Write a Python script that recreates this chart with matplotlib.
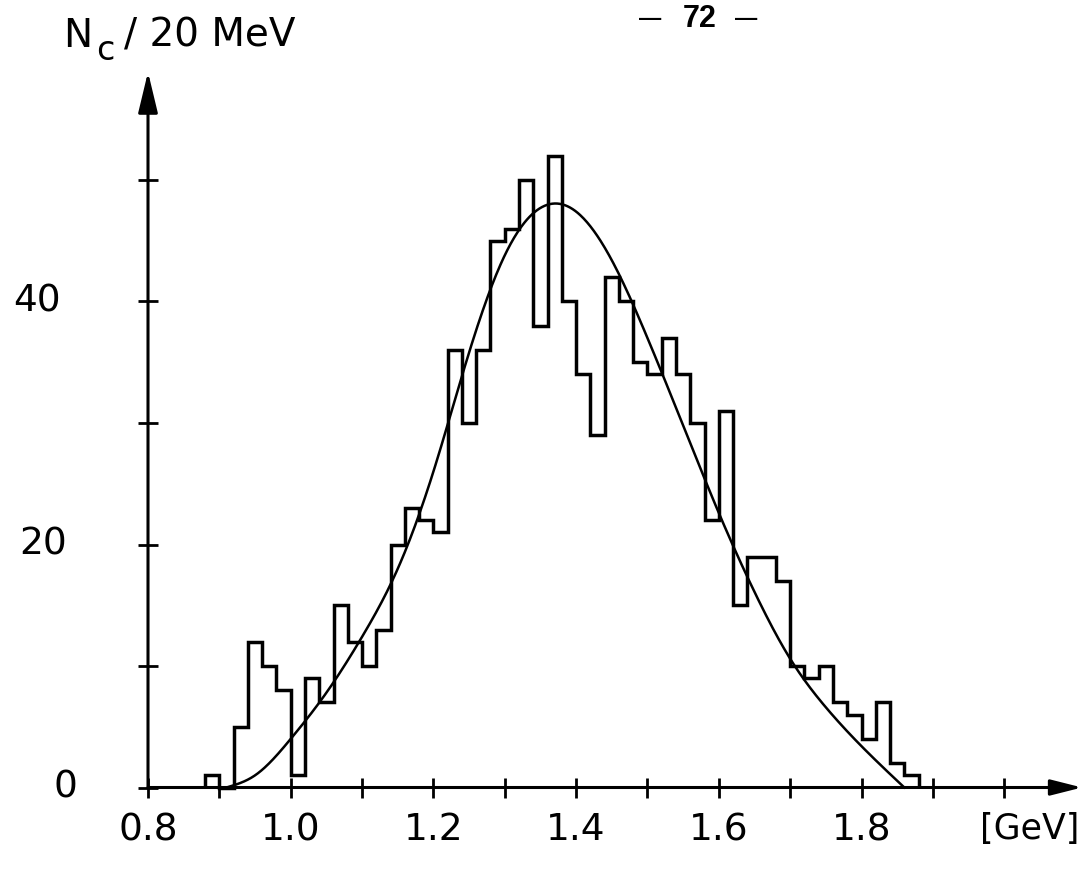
import numpy as np
import matplotlib
matplotlib.use("Agg")
import matplotlib.pyplot as plt
from matplotlib.transforms import blended_transform_factory

plt.rcParams["font.family"] = ["DejaVu Sans"]

# Invariant-mass histogram: 20 MeV bins starting at 0.88 GeV
first_edge = 0.88
bin_width = 0.02
counts = [1, 0, 5, 12, 10, 8, 1, 9, 7, 15,
          12, 10, 13, 20, 23, 22, 21, 36, 30, 36,
          45, 46, 50, 38, 52, 40, 34, 29, 42, 40,
          35, 34, 37, 34, 30, 22, 31, 15, 19, 19,
          17, 10, 9, 10, 7, 6, 4, 7, 2, 1]

# Fitted curve sampled at knots (GeV, events per bin)
curve_gev = [0.91, 0.95, 1.00, 1.05, 1.10, 1.15, 1.20, 1.25, 1.30, 1.35,
             1.40, 1.45, 1.50, 1.55, 1.60, 1.65, 1.70, 1.75, 1.80, 1.86]
curve_n = [0.0, 1.0, 4.0, 7.8, 12.4, 18.0, 26.0, 35.8, 43.8, 47.7,
           47.4, 43.4, 37.0, 29.8, 22.6, 16.1, 10.6, 6.6, 3.4, 0.0]

x_major = [0.8, 1.0, 1.2, 1.4, 1.6, 1.8]
x_major_labels = ["0.8", "1.0", "1.2", "1.4", "1.6", "1.8"]
x_minor = [0.9, 1.1, 1.3, 1.5, 1.7, 1.9, 2.0]
y_major = [0, 20, 40]
y_major_labels = ["0", "20", "40"]
y_minor = [10, 30, 50]


def natural_spline(xk, yk, xs):
    xk = np.asarray(xk, float)
    yk = np.asarray(yk, float)
    n = len(xk)
    h = np.diff(xk)
    A = np.zeros((n, n))
    r = np.zeros(n)
    A[0, 0] = A[-1, -1] = 1.0
    for i in range(1, n - 1):
        A[i, i - 1] = h[i - 1]
        A[i, i] = 2 * (h[i - 1] + h[i])
        A[i, i + 1] = h[i]
        r[i] = 3 * ((yk[i + 1] - yk[i]) / h[i] - (yk[i] - yk[i - 1]) / h[i - 1])
    c = np.linalg.solve(A, r)
    b = (yk[1:] - yk[:-1]) / h - h * (2 * c[:-1] + c[1:]) / 3
    d = (c[1:] - c[:-1]) / (3 * h)
    idx = np.clip(np.searchsorted(xk, xs) - 1, 0, n - 2)
    dx = xs - xk[idx]
    return yk[idx] + b[idx] * dx + c[idx] * dx ** 2 + d[idx] * dx ** 3


W, H = 1086, 873
fig = plt.figure(figsize=(W / 100, H / 100), dpi=100)
fig.patch.set_facecolor("white")

# axes frame in pixels: origin (0.8 GeV, 0) at (148, 787.5)
px_gev, px_n = 713.5, 12.15
left_px, right_px, bottom_px, top_px = 148, 1084, 787.5, 62
ax = fig.add_axes([left_px / W, (H - bottom_px) / H,
                   (right_px - left_px) / W, (bottom_px - top_px) / H])
ax.set_xlim(0.8, 0.8 + (right_px - left_px) / px_gev)
ax.set_ylim(0, (bottom_px - top_px) / px_n)
ax.patch.set_alpha(0)
for s in ax.spines.values():
    s.set_visible(False)

# histogram outline
edges = np.round(first_edge + bin_width * np.arange(len(counts) + 1), 2)
ax.stairs(counts, edges, baseline=0, fill=False, color="black",
          linewidth=2.5, clip_on=False)

# fitted curve
xs = np.linspace(curve_gev[0], curve_gev[-1], 800)
ys = np.clip(natural_spline(curve_gev, curve_n, xs), 0, None)
ax.plot(xs, ys, color="black", linewidth=1.8, clip_on=False)

# axes with arrowheads
x_tip = 0.8 + (1082 - left_px) / px_gev
y_tip = (bottom_px - 72) / px_n
ax.annotate("", xy=(x_tip, 0), xytext=(0.8, 0), annotation_clip=False,
            arrowprops=dict(arrowstyle="-|>,head_length=0.95,head_width=0.24",
                            mutation_scale=20, lw=2.2, color="black",
                            shrinkA=0, shrinkB=0))
ax.annotate("", xy=(0.8, y_tip), xytext=(0.8, 0), annotation_clip=False,
            arrowprops=dict(arrowstyle="-|>,head_length=1.25,head_width=0.3",
                            mutation_scale=20, lw=2.2, color="black",
                            shrinkA=0, shrinkB=0))

ax.set_xticks(x_major)
ax.set_xticklabels(x_major_labels)
ax.set_xticks(x_minor, minor=True)
ax.set_yticks(y_major)
ax.set_yticklabels([])
ax.set_yticks(y_minor, minor=True)
ax.tick_params(which="both", direction="inout", length=14, width=2.0,
               color="black")
ax.tick_params(axis="x", which="major", pad=11, labelsize=27)

# y labels, set well away from the axis
ylab_tr = blended_transform_factory(fig.transFigure, ax.transData)
ylab_centres_px = [65, 43, 37]
for val, lab, cx in zip(y_major, y_major_labels, ylab_centres_px):
    ax.text(cx / W, val, lab, transform=ylab_tr, ha="center", va="center",
            fontsize=27, clip_on=False)

ax.annotate("[GeV]", xy=(0.8 + (1030 - left_px) / px_gev, 0),
            xytext=(0, -(7 + 11)), textcoords="offset points",
            ha="center", va="top", fontsize=25, annotation_clip=False)

# y-axis title N_c / 20 MeV
base_y = (H - 47) / H
fig.text(63 / W, base_y, "N", ha="left", va="baseline", fontsize=28)
fig.text(96 / W, base_y - 13 / H, "c", ha="left", va="baseline", fontsize=24)
fig.text(124 / W, base_y, "/ 20 MeV", ha="left", va="baseline", fontsize=28)

# page number
page_font = dict(fontweight="bold", family=["Liberation Sans", "DejaVu Sans"])
fig.text(700 / W, (H - 19) / H, "72", ha="center", va="center",
         fontsize=22, **page_font)
for cx in (650, 746):
    fig.text(cx / W, (H - 19) / H, "—", ha="center", va="center",
             fontsize=16, **page_font)

fig.savefig("out.png", dpi=100, facecolor="white")
